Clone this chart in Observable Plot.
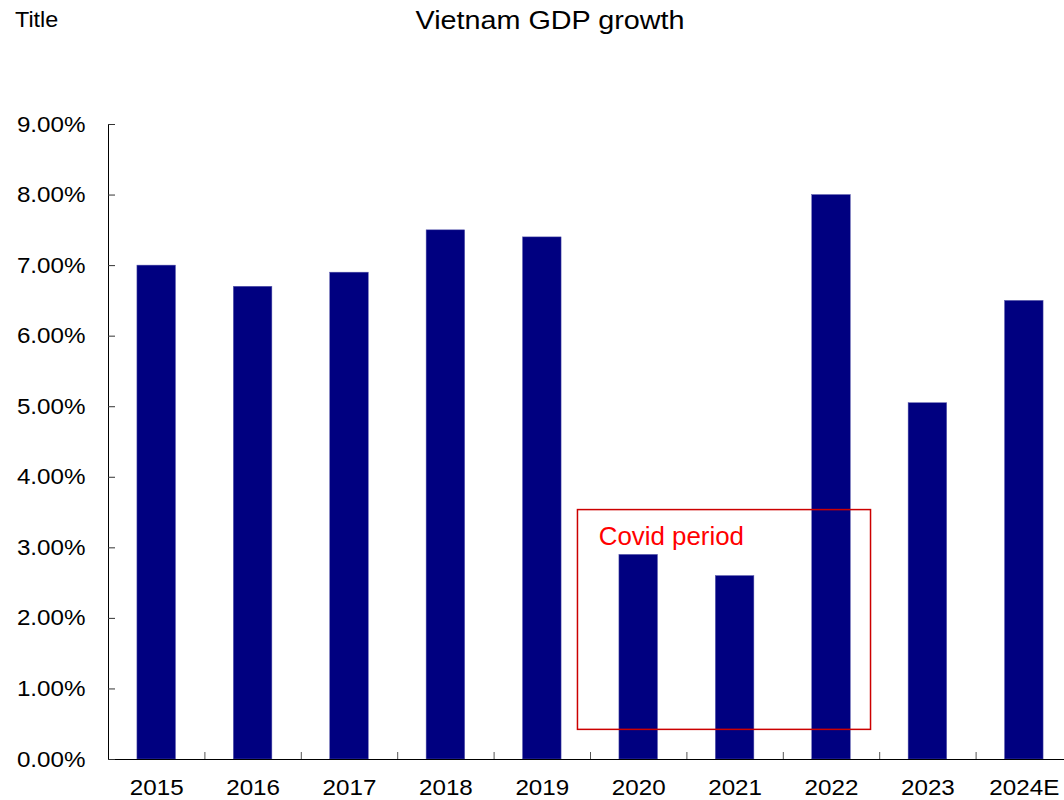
<!DOCTYPE html>
<html>
<head>
<meta charset="utf-8">
<script src="https://cdn.jsdelivr.net/npm/d3@7"></script>
<script src="https://cdn.jsdelivr.net/npm/@observablehq/plot@0.6"></script>
<style>
  html, body { margin: 0; padding: 0; background: #fff; overflow: hidden; }
  #wrap { position: relative; width: 1064px; height: 800px; font-family: "Liberation Sans", Arial, sans-serif; color: #000; }
  #header { position: relative; height: 45px; }
  #corner { position: absolute; left: 15px; top: 9px; font-size: 22px; line-height: 22px; transform: scaleX(1.06); transform-origin: 0 0; }
  #title { position: absolute; left: 0; width: 1100px; top: 8px; text-align: center; font-size: 25px; line-height: 25px; transform: scaleX(1.15); transform-origin: 550px 0; }
</style>
</head>
<body>
<div id="wrap">
  <div id="header">
    <div id="corner">Title</div>
    <div id="title">Vietnam GDP growth</div>
  </div>
  <div id="chart"></div>
</div>
<script>
const categories = ["2015", "2016", "2017", "2018", "2019", "2020", "2021", "2022", "2023", "2024E"];
const growth = [0.070, 0.067, 0.069, 0.075, 0.074, 0.029, 0.026, 0.080, 0.0505, 0.065];
const yTicks = [0, 0.01, 0.02, 0.03, 0.04, 0.05, 0.06, 0.07, 0.08, 0.09];
const categoryBoundaries = [0.5, 1.5, 2.5, 3.5, 4.5, 5.5, 6.5, 7.5, 8.5];
const covidBox = [{x1: 4.37, x2: 7.41, y1: 0.0042, y2: 0.03535}];
const covidLabel = [{x: 4.585, y: 0.0316, text: "Covid period"}];

const data = categories.map((c, i) => ({i, category: c, value: growth[i]}));

const chart = Plot.plot({
  width: 1064,
  height: 755,
  marginLeft: 108,
  marginRight: -8,
  marginTop: 79,
  marginBottom: 41,
  x: {domain: [-0.5, 9.5]},
  y: {domain: [0, 0.09]},
  style: {fontFamily: "'Liberation Sans', Arial, sans-serif", fontSize: "22px", color: "#000", background: "#fff", overflow: "visible"},
  marks: [
    Plot.rectY(data, {x1: d => d.i - 0.2, x2: d => d.i + 0.2, y: "value", fill: "#000080", stroke: "#5c5cae", strokeWidth: 0.5}),
    Plot.ruleX([-0.5], {stroke: "#000", strokeWidth: 1}),
    Plot.ruleY([0], {stroke: "#000", strokeWidth: 1}),
    Plot.axisY({ticks: yTicks, tickFormat: d3.format(".2%"), tickSize: 0, tickPadding: 23, fontSize: 22, label: null}),
    Plot.axisY({ticks: yTicks, tickSize: -7, tickFormat: () => "", label: null, stroke: "#333"}),
    Plot.axisX({ticks: data.map(d => d.i), tickFormat: i => categories[i], tickSize: 0, tickPadding: 20, fontSize: 22, label: null}),
    Plot.axisX({ticks: categoryBoundaries, tickSize: -7, tickFormat: () => "", label: null, stroke: "#555"}),
    Plot.rect(covidBox, {x1: "x1", x2: "x2", y1: "y1", y2: "y2", fill: "none", stroke: "#cc0000", strokeWidth: 1.5}),
    Plot.text(covidLabel, {x: "x", y: "y", text: "text", textAnchor: "start", fill: "#ff0000", fontSize: 25})
  ]
});

document.getElementById("chart").appendChild(chart);

// The reference's lettering is horizontally widened; stretch the glyphs to match.
d3.select(chart).selectAll("text").each(function() {
  if (!this.textContent) return;
  const stretch = this.textContent === "Covid period" ? 1.035 : 1.1;
  const len = this.getComputedTextLength();
  if (len > 0) {
    this.setAttribute("textLength", (len * stretch).toFixed(2));
    this.setAttribute("lengthAdjust", "spacingAndGlyphs");
  }
});
</script>
</body>
</html>
